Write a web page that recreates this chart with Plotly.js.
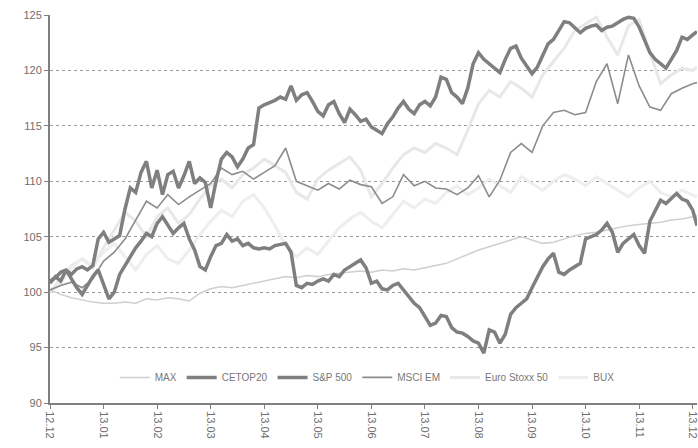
<!DOCTYPE html>
<html>
<head>
<meta charset="utf-8">
<script src="https://cdn.plot.ly/plotly-3.0.1.min.js"></script>
<style>html,body{margin:0;padding:0;background:#fff;}#chart{width:698px;height:448px;}</style>
</head>
<body>
<div id="chart"></div>
<script>
// Tick labels (months, YY.MM)
const tickPos = [0,1,2,3,4,5,6,7,8,9,10,11,12];
const tickLabels = ["12.12","13.01","13.02","13.03","13.04","13.05","13.06","13.07","13.08","13.09","13.10","13.11","13.12"];

// time (months from start) for the densely read series
const tDense = [0,0.1,0.2,0.3,0.4,0.5,0.6,0.7,0.8,0.9,1,1.1,1.2,1.3,1.4,1.5,1.6,1.7,1.8,1.9,2,2.1,2.2,2.3,2.4,2.5,2.6,2.7,2.8,2.9,3,3.1,3.2,3.3,3.4,3.5,3.6,3.7,3.8,3.9,4,4.1,4.2,4.3,4.4,4.5,4.6,4.7,4.8,4.9,5,5.1,5.2,5.3,5.4,5.5,5.6,5.7,5.8,5.9,6,6.1,6.2,6.3,6.4,6.5,6.6,6.7,6.8,6.9,7,7.1,7.2,7.3,7.4,7.5,7.6,7.7,7.8,7.9,8,8.1,8.2,8.3,8.4,8.5,8.6,8.7,8.8,8.9,9,9.1,9.2,9.3,9.4,9.5,9.6,9.7,9.8,9.9,10,10.1,10.2,10.3,10.4,10.5,10.6,10.7,10.8,10.9,11,11.1,11.2,11.3,11.4,11.5,11.6,11.7,11.8,11.9,12,12.08];
// time for the coarser series
const tCoarse = [0,0.2,0.4,0.6,0.8,1,1.2,1.4,1.6,1.8,2,2.2,2.4,2.6,2.8,3,3.2,3.4,3.6,3.8,4,4.2,4.4,4.6,4.8,5,5.2,5.4,5.6,5.8,6,6.2,6.4,6.6,6.8,7,7.2,7.4,7.6,7.8,8,8.2,8.4,8.6,8.8,9,9.2,9.4,9.6,9.8,10,10.2,10.4,10.6,10.8,11,11.2,11.4,11.6,11.8,12,12.08];

const sp500 = [101.0,101.3,101.8,102.0,101.6,102.1,102.3,102.0,102.4,104.8,105.4,104.5,104.8,105.1,107.5,109.4,109.0,110.8,111.8,109.4,111.0,108.8,110.6,110.9,109.4,110.5,111.8,109.8,110.3,109.9,107.6,110.0,112.0,112.6,112.2,111.3,112.0,113.0,113.3,116.6,116.9,117.1,117.3,117.6,117.4,118.6,117.3,117.8,118.0,117.2,116.3,115.9,116.9,117.2,116.1,115.3,116.5,116.0,115.4,115.6,114.9,114.6,114.3,115.2,115.8,116.6,117.2,116.5,116.1,116.9,117.2,116.8,117.6,119.4,119.2,118.0,117.6,117.0,118.4,120.6,121.6,121.0,120.6,120.2,119.8,121.0,122.0,122.2,121.1,120.4,119.7,120.3,121.4,122.4,122.8,123.6,124.4,124.3,123.8,123.4,123.8,124.0,124.1,123.6,123.9,124.0,124.3,124.6,124.8,124.7,123.9,122.8,121.6,121.0,120.6,120.2,121.0,121.8,123.0,122.8,123.2,123.5];

const cetop20 = [100.8,101.4,101.0,102.0,101.2,100.4,99.8,100.6,101.4,102.0,100.8,99.4,100.0,101.6,102.4,103.2,104.0,104.6,105.3,105.0,106.2,106.8,106.0,105.3,105.8,106.2,104.8,103.8,102.3,102.0,103.2,104.2,104.4,105.2,104.6,104.8,104.2,104.4,104.0,103.9,104.0,103.9,104.2,104.3,104.4,103.6,100.6,100.4,100.8,100.7,101.0,101.2,101.0,101.6,101.4,102.0,102.3,102.6,102.9,102.2,100.8,101.0,100.3,100.2,100.6,100.8,100.2,99.6,99.0,98.6,97.8,97.0,97.2,97.9,97.8,96.8,96.4,96.3,96.0,95.6,95.4,94.5,96.6,96.4,95.4,96.2,98.0,98.6,99.0,99.4,100.4,101.4,102.3,103.0,103.5,101.8,101.6,102.0,102.3,102.6,104.8,105.0,105.2,105.6,106.2,105.4,103.6,104.4,104.8,105.2,104.2,103.5,106.4,107.4,108.3,108.0,108.5,108.9,108.4,108.2,107.4,106.0];

const msciEM = [100.2,100.6,100.9,100.4,101.2,102.8,103.6,104.8,106.5,108.2,107.6,108.8,107.9,108.6,109.2,109.8,111.2,110.6,110.9,110.2,110.8,111.4,113.0,110.0,109.6,109.2,109.8,109.3,110.1,109.7,109.5,108.0,108.6,110.6,109.6,110.0,109.4,109.3,108.8,109.4,110.5,108.6,110.1,112.6,113.4,112.6,115.0,116.2,116.4,116.0,116.2,119.0,120.6,117.0,121.4,118.6,116.7,116.4,117.9,118.4,118.8,118.9];

const maxIdx = [100.2,99.8,99.5,99.3,99.1,99.0,99.0,99.1,99.0,99.4,99.3,99.5,99.4,99.2,99.9,100.3,100.5,100.4,100.6,100.8,101.0,101.2,101.4,101.3,101.5,101.4,101.6,101.7,101.8,101.9,101.8,102.0,101.9,102.1,102.0,102.2,102.4,102.6,103.0,103.4,103.8,104.1,104.4,104.7,105.0,104.7,104.4,104.5,104.8,105.1,105.3,105.4,105.6,105.8,106.0,106.1,106.2,106.3,106.5,106.6,106.8,106.9];

const euroStoxx = [100.0,101.2,102.4,103.0,102.2,104.0,105.6,107.2,106.4,105.0,106.8,107.6,106.2,107.0,108.4,109.6,110.2,109.4,110.6,111.2,112.0,111.4,110.8,109.0,108.4,110.2,111.0,111.6,112.2,111.0,108.6,109.8,111.2,112.4,113.0,112.6,113.4,113.0,112.4,114.6,117.0,118.2,117.6,119.0,118.4,117.6,119.6,120.8,122.0,123.6,124.2,124.8,123.0,121.4,124.0,124.6,121.6,118.8,119.6,120.2,120.0,120.3];

const bux = [100.0,100.8,102.2,103.0,102.4,103.6,104.4,103.2,102.0,103.4,104.2,103.0,102.6,103.8,105.2,106.4,107.4,106.8,108.2,108.8,107.6,106.0,104.2,103.2,104.0,103.4,104.6,105.8,106.6,107.2,106.4,105.8,107.0,108.2,107.6,108.4,108.0,109.0,109.6,108.8,109.4,110.2,109.6,109.0,110.4,109.8,109.2,110.0,110.6,110.2,109.6,110.4,109.8,109.2,108.6,109.4,110.0,109.0,108.6,109.2,108.8,108.6];

const traces = [
  {name:"Euro Stoxx 50", x:tCoarse, y:euroStoxx, legendrank:5, line:{color:"#e8e8e8", width:3}},
  {name:"BUX", x:tCoarse, y:bux, legendrank:6, line:{color:"#eeeeee", width:3}},
  {name:"MAX", x:tCoarse, y:maxIdx, legendrank:1, line:{color:"#cfcfcf", width:1.5}},
  {name:"MSCI EM", x:tCoarse, y:msciEM, legendrank:4, line:{color:"#8c8c8c", width:1.6}},
  {name:"CETOP20", x:tDense, y:cetop20, legendrank:2, line:{color:"#7f7f7f", width:3.5}},
  {name:"S&P 500", x:tDense, y:sp500, legendrank:3, line:{color:"#7f7f7f", width:3.5}}
].map(t => Object.assign({type:"scatter", mode:"lines", hoverinfo:"skip"}, t));

const layout = {
  width:698, height:448,
  margin:{l:50, r:1, t:15, b:45},
  paper_bgcolor:"#fff", plot_bgcolor:"#fff",
  font:{family:"Liberation Sans, Arial, sans-serif", size:11, color:"#6e6e6e"},
  showlegend:true,
  legend:{orientation:"h", x:0.1, y:0.066, xanchor:"left", yanchor:"middle",
          bgcolor:"rgba(0,0,0,0)", font:{size:10, color:"#777"}, tracegroupgap:0, itemwidth:30},
  xaxis:{range:[0,12.08], tickmode:"array", tickvals:tickPos, ticktext:tickLabels, tickangle:90,
         ticklabeloverflow:"allow",
         showgrid:false, zeroline:false, showline:true, linecolor:"#808080", linewidth:2,
         ticks:"outside", ticklen:4, tickcolor:"#808080", fixedrange:true},
  yaxis:{range:[90,125], dtick:5, tick0:90, showgrid:true, gridcolor:"#9a9a9a", griddash:"3px,3px", gridwidth:1,
         zeroline:false, showline:true, linecolor:"#808080", linewidth:2,
         ticks:"outside", ticklen:4, tickcolor:"#808080", fixedrange:true}
};

Plotly.newPlot("chart", traces, layout, {staticPlot:true, displayModeBar:false});
</script>
</body>
</html>
